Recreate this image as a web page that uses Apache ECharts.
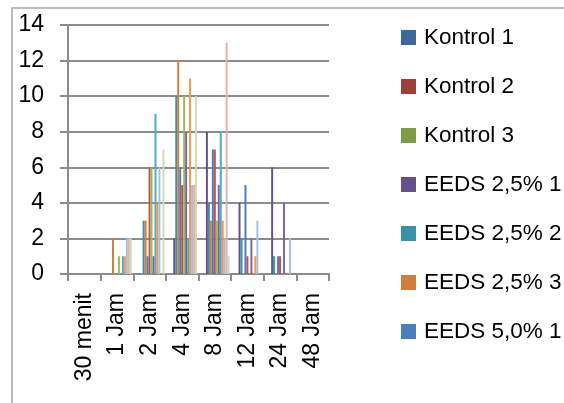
<!DOCTYPE html>
<html>
<head>
<meta charset="utf-8">
<script src="https://cdn.jsdelivr.net/npm/echarts@6/dist/echarts.min.js"></script>
<style>
html, body { margin: 0; padding: 0; background: #fff; }
#container { width: 564px; height: 403px; }
</style>
</head>
<body>
<div id="container"></div>
<script>
var categories = ['30 menit', '1 Jam', '2 Jam', '4 Jam', '8 Jam', '12 Jam', '24 Jam', '48 Jam'];

var seriesNames = ['Kontrol 1', 'Kontrol 2', 'Kontrol 3',
  'EEDS 2,5% 1', 'EEDS 2,5% 2', 'EEDS 2,5% 3',
  'EEDS 5,0% 1', 'EEDS 5,0% 2', 'EEDS 5,0% 3',
  'EEDS 7,5% 1', 'EEDS 7,5% 2', 'EEDS 7,5% 3',
  'EEDS 10% 1', 'EEDS 10% 2', 'EEDS 10% 3'];

var kontrol1 = [0, 0, 0, 0, 0, 0, 0, 0];
var kontrol2 = [0, 0, 0, 0, 0, 0, 0, 0];
var kontrol3 = [0, 0, 0, 0, 0, 0, 0, 0];
var eeds25_1 = [0, 0, 0, 2, 8, 4, 6, 0];
var eeds25_2 = [0, 0, 3, 10, 4, 2, 1, 0];
var eeds25_3 = [0, 2, 3, 12, 3, 0, 0, 0];
var eeds50_1 = [0, 0, 1, 6, 7, 5, 1, 0];
var eeds50_2 = [0, 0, 6, 5, 7, 1, 1, 0];
var eeds50_3 = [0, 1, 6, 10, 3, 0, 0, 0];
var eeds75_1 = [0, 0, 1, 8, 5, 2, 4, 0];
var eeds75_2 = [0, 1, 9, 2, 8, 0, 0, 0];
var eeds75_3 = [0, 1, 4, 11, 3, 1, 0, 0];
var eeds10_1 = [0, 2, 6, 5, 2, 3, 2, 0];
var eeds10_2 = [0, 2, 0, 5, 13, 0, 0, 0];
var eeds10_3 = [0, 2, 7, 10, 1, 0, 0, 0];

var allValues = [kontrol1, kontrol2, kontrol3, eeds25_1, eeds25_2, eeds25_3,
  eeds50_1, eeds50_2, eeds50_3, eeds75_1, eeds75_2, eeds75_3,
  eeds10_1, eeds10_2, eeds10_3];

var colors = ['#3D689B', '#9F3F3C', '#7E9B47', '#65508A', '#3990A8', '#D27E3A',
  '#4A7EBF', '#C0504D', '#9BBB59', '#8064A2', '#4BACC6', '#F79646',
  '#A9BFDF', '#E8B1AF', '#CFDDB5'];

var dom = document.getElementById('container');
var myChart = echarts.init(dom, null, { renderer: 'canvas' });

var gridColor = '#8C8C8C';
var font = 'Liberation Sans';

var series = seriesNames.map(function (name, i) {
  return {
    name: name,
    type: 'bar',
    data: allValues[i],
    barGap: '0%',
    barCategoryGap: '9.1%',
    itemStyle: { color: colors[i] }
  };
});

var option = {
  animation: false,
  color: colors,
  textStyle: { fontFamily: font },
  graphic: [{
    type: 'polyline',
    shape: { points: [[12, 410], [12, 8], [570, 8]] },
    style: { stroke: '#A6A6A6', lineWidth: 1.5, fill: null }
  }],
  grid: { left: 68, right: 235, top: 25, bottom: 129, outerBoundsMode: 'none', containLabel: false },
  legend: {
    orient: 'vertical',
    left: 396,
    top: 21,
    data: seriesNames.slice(0, 7),
    itemWidth: 15,
    itemHeight: 15,
    itemGap: 26,
    icon: 'rect',
    textStyle: { fontSize: 22.5, color: '#000', fontFamily: font, padding: [0, 0, 0, 3] }
  },
  xAxis: {
    type: 'category',
    data: categories,
    axisLine: { lineStyle: { color: gridColor, width: 2 } },
    axisTick: { show: true, length: 7, interval: 0, lineStyle: { color: gridColor, width: 2 } },
    axisLabel: { rotate: 90, interval: 0, margin: 19, fontSize: 23, color: '#000', fontFamily: font }
  },
  yAxis: {
    type: 'value',
    min: 0,
    max: 14,
    interval: 2,
    axisLine: { show: true, lineStyle: { color: gridColor, width: 2 } },
    axisTick: { show: true, length: 8, lineStyle: { color: gridColor, width: 2 } },
    axisLabel: { margin: 24, fontSize: 23, color: '#000', fontFamily: font },
    splitLine: { lineStyle: { color: gridColor, width: 2 } }
  },
  series: series
};

myChart.setOption(option);
window.addEventListener('resize', myChart.resize);
</script>
</body>
</html>
